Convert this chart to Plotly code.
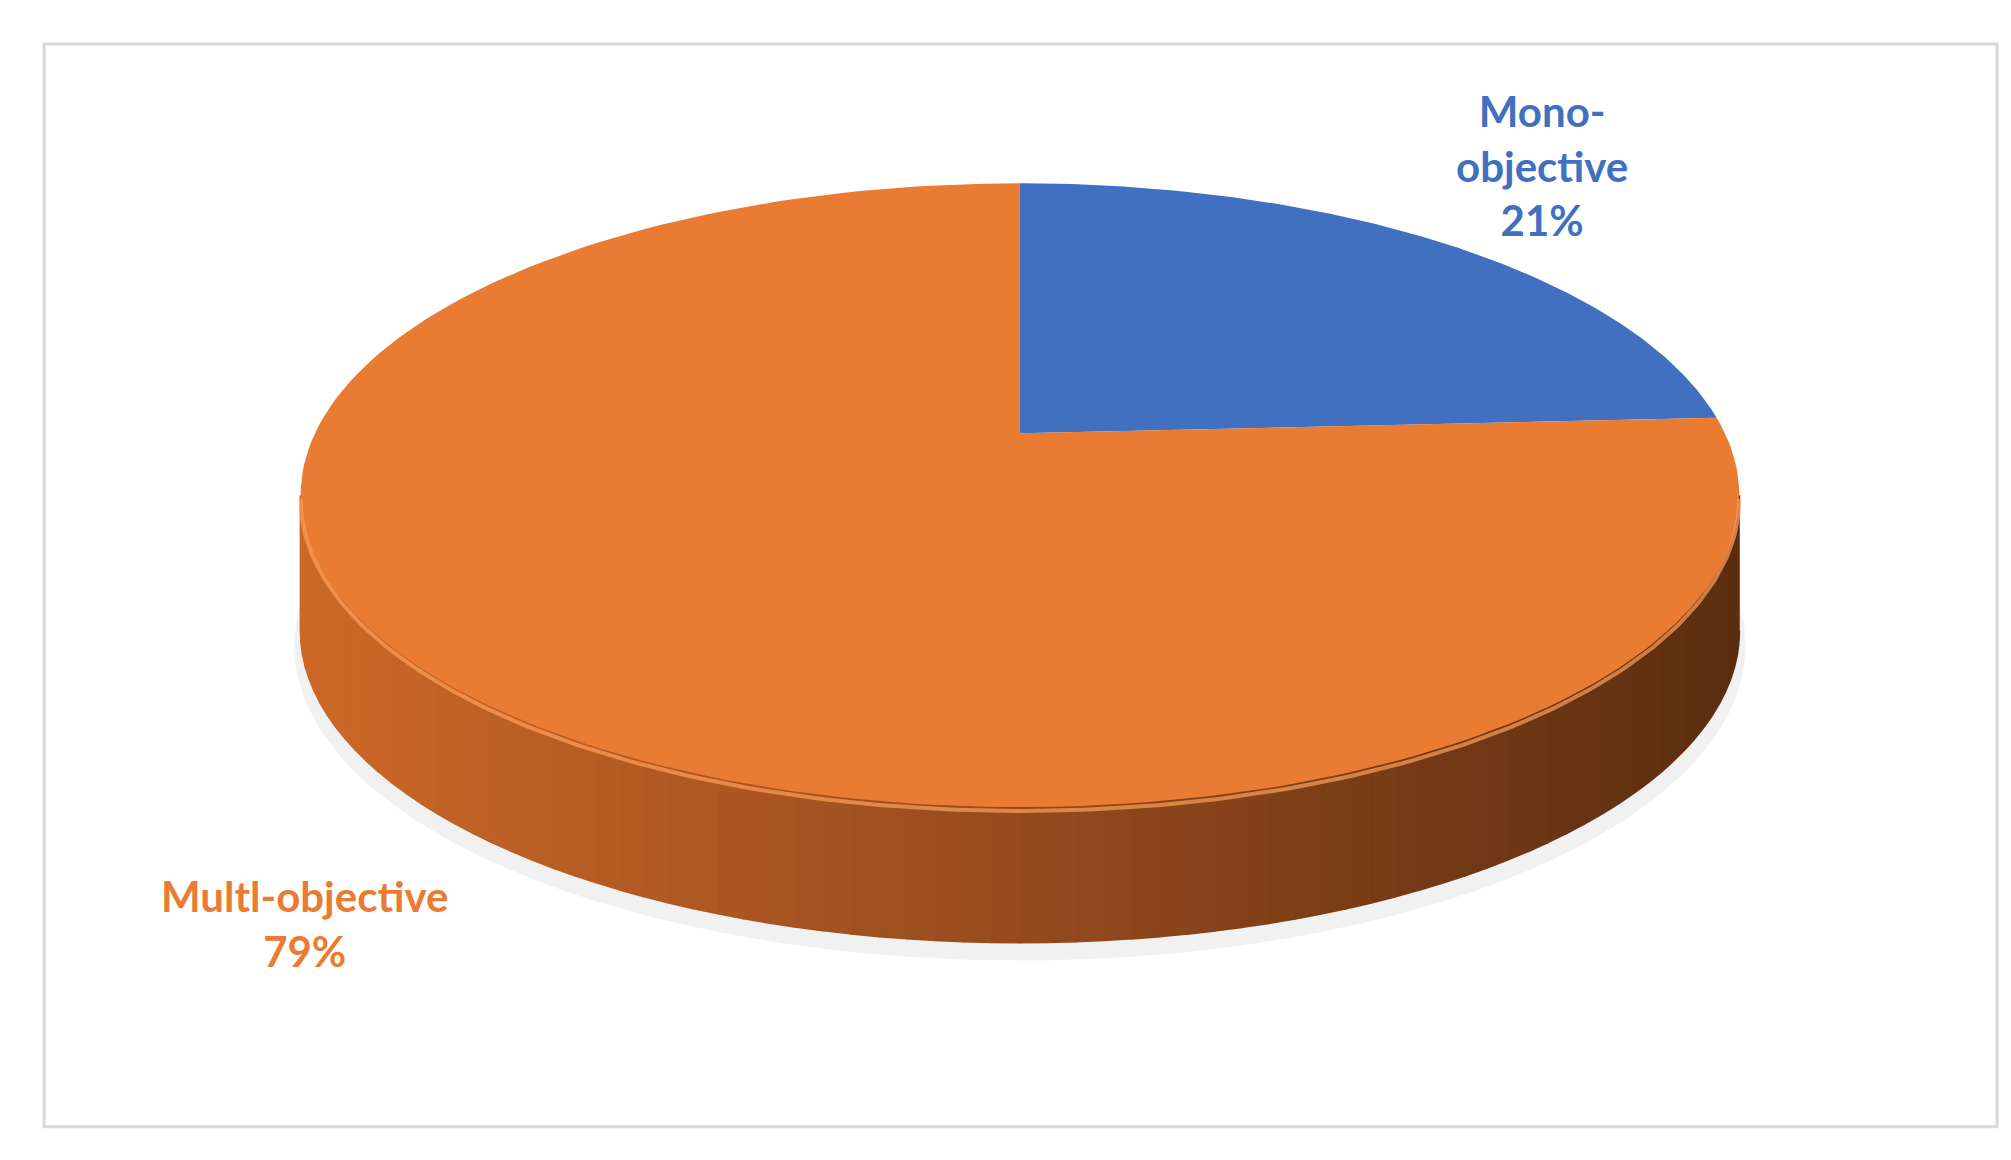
import numpy as np
import plotly.graph_objects as go

categories = ["Mono-objective", "Multi-objective"]
values = [21, 79]
label_texts = ["Mono-<br>objective<br>21%", "Multl-objective<br>79%"]
colors = ["#4170C0", "#EA7B33"]

# geometry (in reference pixel units, axes 0..1560 x 0..900)
cx, cy, rx, ry = 785, 378, 558, 242
apex = (785, 330)
thick = 105

fig = go.Figure()

def pt(t):
    return cx + rx*np.sin(t), cy - ry*np.cos(t)

# shadow
ts = np.linspace(0, 2*np.pi, 200)
fig.add_trace(go.Scatter(x=cx + (rx+5)*np.sin(ts), y=cy+thick+12 - (ry+2)*np.cos(ts),
                         fill="toself", fillcolor="rgba(215,215,215,0.35)", line=dict(width=0),
                         mode="lines", hoverinfo="skip", showlegend=False))

# side band strips
N = 80
edges = np.linspace(np.pi/2, 3*np.pi/2, N+1)
c_left = np.array([205, 105, 40]); c_mid = np.array([150, 75, 30]); c_right = np.array([92, 46, 16])
for i in range(N):
    t0, t1 = edges[i], edges[i+1]
    tt = np.linspace(t0, t1, 5)
    xs, ys = pt(tt)
    X = np.concatenate([xs, xs[::-1]])
    Y = np.concatenate([ys, ys[::-1] + thick])
    fx = (np.mean(xs) - (cx-rx)) / (2*rx)
    if fx > 0.5:
        c = c_mid*(1-(fx-0.5)*2) + c_right*((fx-0.5)*2)
    else:
        c = c_left*(1-fx*2) + c_mid*(fx*2)
    col = "rgb(%d,%d,%d)" % tuple(c.astype(int))
    fig.add_trace(go.Scatter(x=X, y=Y, fill="toself", fillcolor=col, line=dict(width=2, color=col),
                             mode="lines", hoverinfo="skip", showlegend=False))

# top face slices
total = sum(values)
start = 0.0
for v, col in zip(values, colors):
    a0 = start/total*2*np.pi; a1 = (start+v)/total*2*np.pi
    tt = np.linspace(a0, a1, 200)
    xs, ys = pt(tt)
    X = np.concatenate([[apex[0]], xs, [apex[0]]])
    Y = np.concatenate([[apex[1]], ys, [apex[1]]])
    fig.add_trace(go.Scatter(x=X, y=Y, fill="toself", fillcolor=col, line=dict(width=0),
                             mode="lines", hoverinfo="skip", showlegend=False))
    start += v

# subtle rim highlight on front edge
tt = np.linspace(np.pi/2, 3*np.pi/2, 200)
xs, ys = pt(tt)
fig.add_trace(go.Scatter(x=xs, y=ys+3, mode="lines", line=dict(color="rgba(255,160,90,0.7)", width=4),
                         hoverinfo="skip", showlegend=False))

label_pos = [(1190, 122), (230, 710)]
for txt, (x, y), col in zip(label_texts, label_pos, colors):
    fig.add_annotation(x=x, y=y, text="<b>%s</b>" % txt, showarrow=False,
                       font=dict(family="Lato", size=42, color=col), align="center")

fig.add_shape(type="rect", x0=28, y0=28, x1=1543, y1=868, line=dict(color="#D9D9D9", width=3))

fig.update_xaxes(range=[0, 1560], visible=False)
fig.update_yaxes(range=[900, 0], visible=False)
fig.update_layout(width=2011, height=1160, margin=dict(l=0, r=0, t=0, b=0),
                  paper_bgcolor="white", plot_bgcolor="white")
fig.write_html("out.html")
